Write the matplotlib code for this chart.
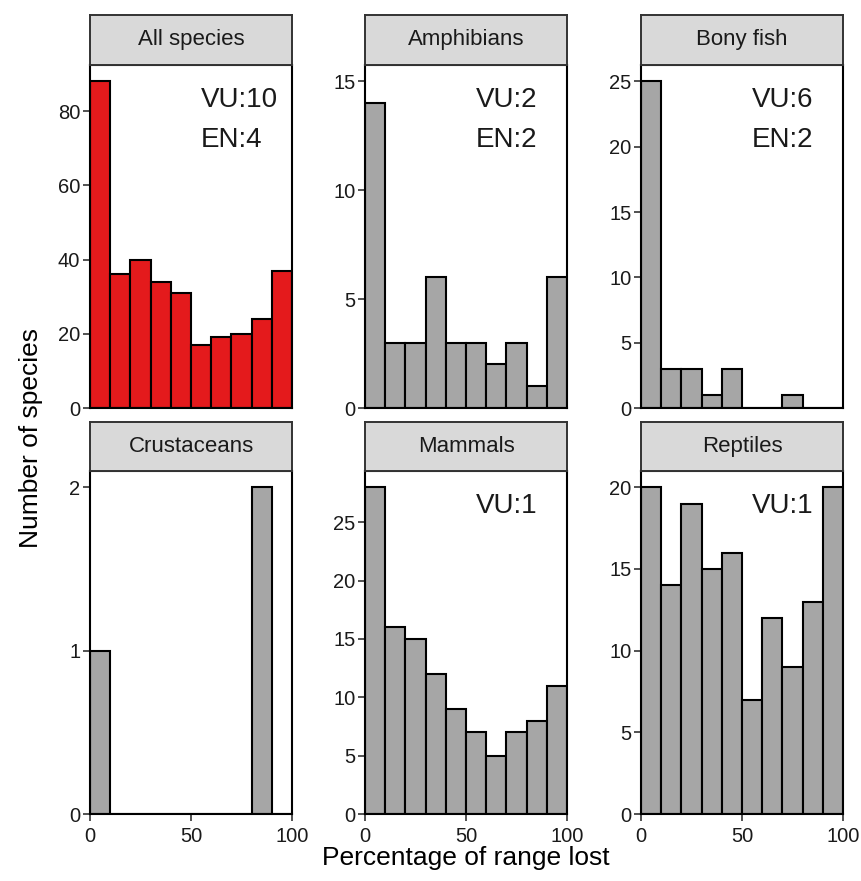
import matplotlib
matplotlib.use("Agg")
import matplotlib.pyplot as plt
import numpy as np

plt.rcParams['font.family'] = ['Liberation Sans', 'DejaVu Sans']

# ---------------- data ----------------
panels = ["All species", "Amphibians", "Bony fish", "Crustaceans", "Mammals", "Reptiles"]
bin_edges = [0, 10, 20, 30, 40, 50, 60, 70, 80, 90, 100]
counts_all = [88, 36, 40, 34, 31, 17, 19, 20, 24, 37]
counts_amphibians = [14, 3, 3, 6, 3, 3, 2, 3, 1, 6]
counts_bonyfish = [25, 3, 3, 1, 3, 0, 0, 1, 0, 0]
counts_crustaceans = [1, 0, 0, 0, 0, 0, 0, 0, 2, 0]
counts_mammals = [28, 16, 15, 12, 9, 7, 5, 7, 8, 11]
counts_reptiles = [20, 14, 19, 15, 16, 7, 12, 9, 13, 20]
counts = [counts_all, counts_amphibians, counts_bonyfish,
          counts_crustaceans, counts_mammals, counts_reptiles]
vu_labels = ["VU:10", "VU:2", "VU:6", None, "VU:1", "VU:1"]
en_labels = ["EN:4", "EN:2", "EN:2", None, None, None]
y_upper = [88, 15, 25, 2, 28, 20]
y_step = [20, 5, 5, 1, 5, 5]
x_ticks = [0, 50, 100]
x_label = "Percentage of range lost"
y_label = "Number of species"

# ---------------- style ----------------
W, H = 862, 881
DPI = 100
fill_colors = ["#E41A1C", "#A6A6A6", "#A6A6A6", "#A6A6A6", "#A6A6A6", "#A6A6A6"]
strip_fill = "#D9D9D9"
strip_edge = "#333333"

fig = plt.figure(figsize=(W / DPI, H / DPI), dpi=DPI)

col_x = [(90, 292), (365, 567), (641, 843)]
row_y = [(15, 65, 408), (422, 471, 814)]  # strip top, panel top, panel bottom


def px_rect(x0, x1, ytop, ybot):
    return [x0 / W, 1 - ybot / H, (x1 - x0) / W, (ybot - ytop) / H]


for i, name in enumerate(panels):
    r, c = divmod(i, 3)
    x0, x1 = col_x[c]
    st, pt, pb = row_y[r]
    ax = fig.add_axes(px_rect(x0, x1, pt, pb))
    lefts = bin_edges[:-1]
    widths = np.diff(bin_edges)
    ax.bar(lefts, counts[i], width=widths, align='edge', color=fill_colors[i],
           edgecolor='black', linewidth=1.5, zorder=2)
    ax.set_xlim(bin_edges[0], bin_edges[-1])
    ax.set_ylim(0, y_upper[i] * 1.05)
    ax.set_yticks(np.arange(0, y_upper[i] * 1.05, y_step[i]))
    ax.set_xticks(x_ticks)
    for sp in ax.spines.values():
        sp.set_linewidth(1.5)
        sp.set_color('black')
        sp.set_zorder(3)
    ax.tick_params(axis='both', direction='out', length=5, width=1.2,
                   color='#333333', labelsize=14.5, labelcolor='#1a1a1a', pad=2)
    if r == 0:
        ax.tick_params(axis='x', bottom=False, labelbottom=False)
    else:
        ax.tick_params(axis='x', pad=4)
    if vu_labels[i]:
        ax.text(0.55, 0.898, vu_labels[i], transform=ax.transAxes,
                ha='left', va='center', fontsize=20, color='#1a1a1a')
    if en_labels[i]:
        ax.text(0.55, 0.781, en_labels[i], transform=ax.transAxes,
                ha='left', va='center', fontsize=20, color='#1a1a1a')

    # strip
    sax = fig.add_axes(px_rect(x0, x1, st, pt))
    sax.set_xlim(0, 1)
    sax.set_ylim(0, 1)
    sax.set_xticks([])
    sax.set_yticks([])
    sax.set_facecolor(strip_fill)
    for sp in sax.spines.values():
        sp.set_linewidth(1.4)
        sp.set_color(strip_edge)
    sax.text(0.5, 0.5, name, ha='center', va='center', fontsize=16,
             color='#1a1a1a')

fig.text(466 / W, 1 - 858 / H, x_label, ha='center', va='center', fontsize=19)
fig.text(31 / W, 1 - 438 / H, y_label, ha='center', va='center', fontsize=19,
         rotation=90)

fig.savefig("out.png", dpi=DPI, facecolor='white')
